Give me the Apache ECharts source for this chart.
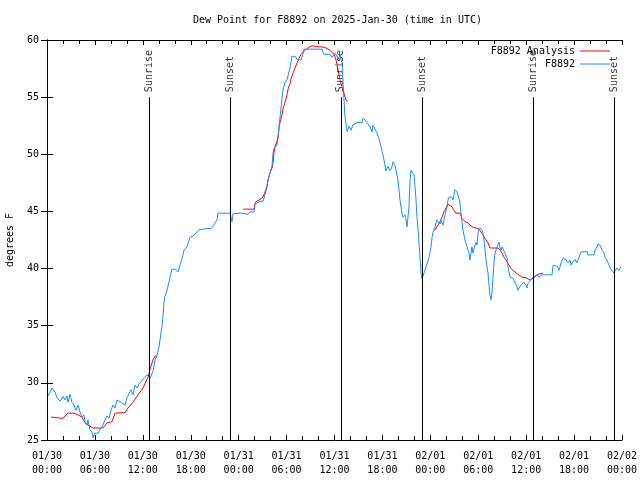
<!DOCTYPE html>
<html><head><meta charset="utf-8">
<script src="https://cdn.jsdelivr.net/npm/echarts@6/dist/echarts.min.js"></script>
<style>html,body{margin:0;padding:0;background:#fff}#c{width:640px;height:480px}</style>
</head><body><div id="c"></div>
<script>
// Hours since 2025-01-30 00:00 UTC
const xTickLabels = ['01/30\n00:00','01/30\n06:00','01/30\n12:00','01/30\n18:00','01/31\n00:00','01/31\n06:00','01/31\n12:00','01/31\n18:00','02/01\n00:00','02/01\n06:00','02/01\n12:00','02/01\n18:00','02/02\n00:00'];
const sunriseHours = [12.8, 36.8, 60.85];
const sunsetHours = [23.0, 46.95, 71.0];

const obsHours = [0.13,0.63,1.0,1.25,1.63,2.0,2.25,2.5,2.63,2.88,3.13,3.38,3.63,3.88,4.13,4.38,4.63,4.76,5.01,5.13,5.38,5.63,5.76,6.01,6.39,6.64,7.01,7.26,7.51,7.76,8.01,8.26,8.52,8.77,9.02,9.27,9.52,9.77,10.02,10.27,10.52,10.77,11.02,11.27,11.52,11.77,12.02,12.27,12.52,12.9,13.27,13.52,13.77,14.02,14.15,14.28,14.4,14.53,14.65,14.78,14.9,15.03,15.4,15.65,16.03,16.4,16.65,16.9,17.03,17.15,17.53,17.78,17.91,18.28,18.66,19.03,20.04,20.16,20.54,20.79,21.04,21.29,21.41,22.92,23.17,23.29,23.54,24.42,24.54,25.17,25.42,25.92,26.04,26.3,26.67,27.05,27.3,27.55,27.67,27.92,28.17,28.3,28.42,28.8,28.92,29.05,29.18,29.43,29.55,29.8,30.05,30.18,30.43,30.68,31.18,31.31,31.56,31.81,32.06,32.18,34.44,34.56,34.69,35.44,35.69,36.06,36.31,36.44,36.69,36.94,37.07,37.19,37.32,37.57,37.69,37.82,38.07,38.32,38.57,38.94,39.19,39.44,39.57,39.95,40.2,40.45,40.7,40.82,41.07,41.32,41.57,41.82,42.07,42.33,42.45,42.7,42.95,43.2,43.33,43.58,43.7,43.95,44.08,44.2,44.45,44.58,44.83,44.96,45.08,45.33,45.46,45.58,45.83,45.96,46.08,46.21,46.33,46.46,46.58,46.71,46.83,46.96,47.21,47.33,47.58,47.84,48.09,48.21,48.34,48.59,48.71,48.84,49.09,49.21,49.34,49.59,49.71,49.84,49.96,50.09,50.21,50.34,50.46,50.71,50.84,51.09,51.21,51.34,51.46,51.71,51.84,51.96,52.09,52.34,52.59,52.71,52.84,52.96,53.09,53.21,53.34,53.46,53.59,53.71,53.84,53.97,54.09,54.22,54.47,54.59,54.72,54.85,54.97,55.22,55.35,55.47,55.6,55.72,55.85,55.97,56.1,56.35,56.6,56.73,56.85,56.98,57.23,57.35,57.6,57.73,57.98,58.1,58.35,58.6,58.85,58.98,59.1,59.35,59.6,59.73,59.98,60.1,60.23,60.48,60.61,60.86,61.11,61.36,61.61,61.98,62.11,62.49,63.24,63.37,63.62,63.87,64.12,64.37,64.62,64.74,64.99,65.12,65.24,65.49,65.62,65.87,66.12,66.37,66.49,66.74,66.87,67.12,67.62,67.74,68.49,68.62,68.87,68.99,69.25,69.37,69.5,69.75,69.87,70.12,70.37,70.5,70.75,71.0,71.12,71.37,71.62,71.87];
const obsValues = [28.85,29.55,29.2,28.7,28.4,28.8,28.5,28.85,28.3,29.0,28.3,28.05,27.6,28.05,27.45,27.0,27.2,26.6,26.3,26.75,25.9,25.7,25.2,25.6,25.6,25.9,26.3,26.75,27.1,26.9,27.6,28.05,27.8,28.5,28.5,28.3,28.4,28.05,28.7,28.85,29.4,28.95,29.8,29.55,29.9,30.1,30.25,30.5,30.7,30.4,31.0,32.0,32.4,33.1,33.75,34.4,35.0,35.85,37.0,37.6,37.85,38.1,39.25,39.95,39.95,39.7,40.3,40.9,41.2,41.6,41.9,41.9,42.75,42.85,43.1,43.4,43.5,43.65,43.5,43.7,43.8,44.25,44.85,44.85,44.1,44.8,44.85,44.85,44.75,44.75,44.95,44.95,45.55,45.75,45.9,45.9,46.45,47.15,47.75,48.35,48.9,50.1,50.55,50.8,51.5,52.3,53.25,54.9,55.6,56.3,56.5,56.6,57.55,58.6,58.5,58.3,58.2,58.25,58.8,59.2,59.2,58.95,58.75,58.75,58.5,58.85,58.6,58.25,58.7,58.0,56.25,54.75,53.25,52.0,52.1,52.45,52.1,52.6,52.5,52.8,52.8,52.75,53.15,52.9,52.8,52.4,51.95,52.55,52.4,51.85,51.4,50.65,49.95,49.05,48.55,48.95,48.55,48.9,49.35,49.05,48.6,47.75,46.9,46.0,44.85,44.5,44.7,44.25,43.65,45.4,47.75,48.6,48.7,48.2,47.15,46.0,44.5,43.4,42.25,40.9,39.6,39.1,39.25,39.85,40.4,41.0,41.9,42.7,43.2,43.6,44.0,44.25,44.4,43.9,44.25,43.8,44.25,44.7,44.85,45.4,46.0,46.25,46.15,46.25,46.0,46.9,47.05,46.7,46.45,45.75,44.85,44.7,43.35,42.5,41.9,42.05,41.35,40.75,40.6,41.9,41.35,41.2,42.05,42.3,42.05,43.1,43.35,43.55,43.35,43.1,42.5,41.6,40.75,39.6,38.55,37.7,37.25,37.85,39.25,40.5,41.35,41.9,42.3,41.8,41.6,41.9,41.8,41.35,40.9,40.15,39.25,39.15,39.15,39.0,38.4,38.1,38.3,38.55,38.55,38.8,38.55,38.3,38.7,38.8,39.0,39.25,39.25,39.45,39.25,39.45,39.6,39.45,39.45,40.3,40.4,40.2,39.85,40.5,40.9,41.0,40.75,40.9,40.5,40.75,40.3,40.6,40.8,40.5,40.75,41.2,41.45,41.6,41.5,41.2,41.2,41.6,41.9,42.15,42.05,41.9,41.6,41.35,41.0,40.75,40.3,40.05,40.15,39.6,39.8,40.05,39.85,40.15];

const anaHours = [0.5,2.0,2.25,2.63,3.38,3.88,4.38,4.76,5.13,5.76,7.01,7.51,8.14,8.52,9.77,10.14,10.77,11.4,12.02,12.65,12.9,13.27,13.52,13.77, 19.0,
 24.54,25.92,26.04,26.3,26.67,27.05,27.3,27.55,27.67,27.92,28.17,28.3,28.42,28.55,28.8,28.92,29.05,29.18,29.43,29.55,29.8,30.05,30.18,30.43,30.55,30.81,31.06,31.31,31.56,31.81,32.06,32.31,32.68,33.18,33.94,34.44,34.94,35.44,35.69,35.94,36.19,36.44,36.69,36.94,37.19,37.44,37.69, 43.0,
 48.59,48.84,49.21,49.46,49.71,49.96,50.21,50.46,50.71,50.96,51.21,51.71,51.96,52.34,52.71,53.21,53.71,54.09,54.34,54.59,54.85,55.22,55.47,56.48,56.73,56.98,57.23,57.48,57.73,57.98,58.23,58.6,58.98,59.48,59.98,60.48,60.86,61.11,61.48,62.11];
const anaValues = [27.0,26.9,27.1,27.35,27.35,27.2,27.0,26.5,26.3,26.05,26.05,26.5,26.6,27.35,27.4,27.8,28.3,28.95,29.55,30.5,31.2,32.0,32.35,32.35, null,
 45.2,45.2,45.75,45.9,46.05,46.25,46.7,47.2,47.75,48.35,48.8,49.25,50.1,50.65,50.8,51.4,52.3,52.8,53.45,54.0,54.55,55.2,55.7,56.2,56.6,57.1,57.55,58.0,58.4,58.75,58.95,59.1,59.3,59.5,59.4,59.4,59.3,59.1,58.95,58.75,58.25,57.4,56.5,55.9,55.35,54.75,54.65, null,
 43.35,43.35,44.1,44.5,44.95,45.3,45.65,45.65,45.4,45.1,44.85,44.85,44.4,44.1,44.0,43.65,43.55,43.45,43.2,42.95,42.65,42.25,41.8,41.8,41.6,41.35,41.0,40.75,40.6,40.15,39.9,39.7,39.5,39.25,39.2,39.0,39.15,39.25,39.5,39.6];

const FONT = 'DejaVu Sans Mono';
const sunTop = 55, yMin = 25, yMax = 60;

const chart = echarts.init(document.getElementById('c'), null, {renderer:'canvas'});
const markLines = [];
sunriseHours.concat(sunsetHours).forEach(h => markLines.push([{coord:[h, sunTop]},{coord:[h, yMin]}]));
const sunLabels = sunriseHours.map(h => [h, sunTop, 'Sunrise']).concat(sunsetHours.map(h => [h, sunTop, 'Sunset']));

const xAxisCommon = {
  type:'value', min:0, max:72, interval:6,
  axisLine:{show:true, lineStyle:{color:'#000', width:1}},
  axisTick:{show:true, inside:true, length:5, lineStyle:{color:'#000'}},
  minorTick:{show:true, splitNumber:3, length:4, lineStyle:{color:'#000'}},
  splitLine:{show:false}
};
const yAxisCommon = {
  type:'value', min:yMin, max:yMax, interval:5,
  axisLine:{show:true, lineStyle:{color:'#000', width:1}},
  axisTick:{show:true, inside:true, length:6, lineStyle:{color:'#000'}},
  splitLine:{show:false}
};

chart.setOption({
  animation:false,
  backgroundColor:'#fff',
  textStyle:{fontFamily:FONT},
  title:{text:'Dew Point for F8892 on 2025-Jan-30 (time in UTC)', left:188, top:10,
    textStyle:{fontFamily:FONT, fontSize:10, fontWeight:'normal', color:'#000'}},
  legend:{orient:'vertical', right:25, top:41, align:'right', itemWidth:30, itemHeight:1, itemGap:3,
    icon:'rect', textStyle:{fontFamily:FONT, fontSize:10, color:'#000'},
    data:['F8892 Analysis','F8892']},
  grid:{left:47, right:18, top:40, bottom:40, containLabel:false, outerBoundsMode:'none'},
  xAxis:[
    Object.assign({}, xAxisCommon, {position:'bottom',
      axisLabel:{show:true, margin:9, fontFamily:FONT, fontSize:10, color:'#000', lineHeight:14,
        formatter: v => xTickLabels[Math.round(v/6)]}}),
    Object.assign({}, xAxisCommon, {position:'top', axisLabel:{show:false}})
  ],
  yAxis:[
    Object.assign({}, yAxisCommon, {position:'left', name:'degrees F', nameLocation:'middle', nameGap:32,
      nameTextStyle:{fontFamily:FONT, fontSize:10, color:'#000'},
      axisLabel:{show:true, margin:8, fontFamily:FONT, fontSize:10, color:'#000'}}),
    Object.assign({}, yAxisCommon, {position:'right', axisLabel:{show:false}})
  ],
  series:[
    {name:'sun', type:'line', data:[], xAxisIndex:0, yAxisIndex:0, silent:true,
      markLine:{silent:true, symbol:'none', label:{show:false}, lineStyle:{color:'#000', width:1, type:'solid'},
        data:markLines}},
    {name:'sunlabels', type:'scatter', data:sunLabels, symbolSize:0, silent:true,
      label:{show:true, position:'top', distance:5, rotate:90, align:'left', verticalAlign:'middle',
        fontFamily:FONT, fontSize:10, color:'#000', formatter: p => p.data[2]}},
    {name:'F8892 Analysis', type:'line', data:anaHours.map((h,i)=>[h, anaValues[i]]), showSymbol:false, symbol:'none',
      connectNulls:false, lineStyle:{color:'#ff0000', width:1}, itemStyle:{color:'#ff0000'}, z:3},
    {name:'F8892', type:'line', data:obsHours.map((h,i)=>[h, obsValues[i]]), showSymbol:false, symbol:'none',
      lineStyle:{color:'#1a8cff', width:1}, itemStyle:{color:'#1a8cff'}, z:4}
  ]
});
</script></body></html>
